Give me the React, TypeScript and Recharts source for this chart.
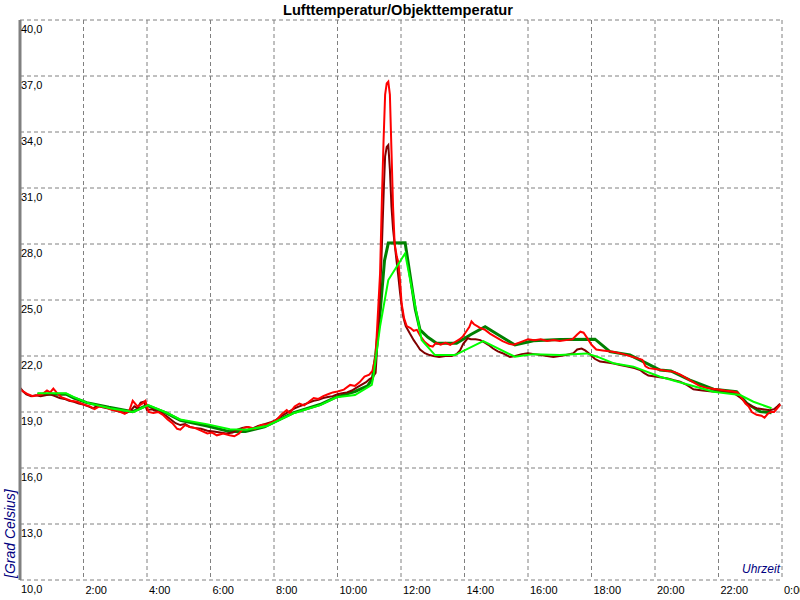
import React from 'react';
import { LineChart, Line, XAxis, YAxis, CartesianGrid } from 'recharts';

// hours of day
const xTicks = [0, 2, 4, 6, 8, 10, 12, 14, 16, 18, 20, 22, 24];
const xTickLabels = ['', '2:00', '4:00', '6:00', '8:00', '10:00', '12:00', '14:00', '16:00', '18:00', '20:00', '22:00', '0:00'];
const yTicks = [10, 13, 16, 19, 22, 25, 28, 31, 34, 37, 40];

// Lufttemperatur (hell rot)
const redHours = [0.0, 0.1, 0.25, 0.4, 0.55, 0.7, 0.85, 0.95, 1.05, 1.15, 1.3, 1.45, 1.6, 1.8, 2.0, 2.2, 2.35, 2.5, 2.7, 2.9, 3.1, 3.3, 3.45, 3.55, 3.7, 3.85, 3.95, 4.05, 4.2, 4.35, 4.5, 4.65, 4.8, 4.95, 5.05, 5.2, 5.35, 5.5, 5.7, 5.9, 6.05, 6.2, 6.4, 6.6, 6.75, 6.9, 7.05, 7.2, 7.4, 7.6, 7.8, 7.95, 8.1, 8.25, 8.4, 8.5, 8.65, 8.8, 8.95, 9.1, 9.25, 9.4, 9.55, 9.7, 9.85, 10.0, 10.2, 10.4, 10.55, 10.7, 10.85, 11.0, 11.1, 11.2, 11.28, 11.34, 11.4, 11.45, 11.5, 11.55, 11.6, 11.65, 11.7, 11.75, 11.8, 11.87, 11.92, 11.97, 12.02, 12.1, 12.18, 12.3, 12.4, 12.5, 12.6, 12.75, 12.9, 13.0, 13.1, 13.25, 13.4, 13.55, 13.7, 13.85, 13.95, 14.05, 14.15, 14.22, 14.3, 14.4, 14.5, 14.65, 14.8, 15.0, 15.2, 15.4, 15.55, 15.7, 15.85, 16.0, 16.2, 16.4, 16.6, 16.8, 17.0, 17.2, 17.4, 17.55, 17.65, 17.75, 17.85, 18.0, 18.15, 18.35, 18.55, 18.75, 19.0, 19.2, 19.4, 19.6, 19.7, 19.8, 20.0, 20.2, 20.4, 20.6, 20.8, 21.0, 21.2, 21.4, 21.6, 21.8, 22.0, 22.2, 22.45, 22.6, 22.75, 22.85, 22.95, 23.05, 23.2, 23.35, 23.45, 23.55, 23.65, 23.75, 23.85, 23.95];
const redTemps = [20.2, 20.1, 19.95, 19.85, 19.9, 19.95, 20.15, 20.05, 20.25, 20.05, 19.8, 19.7, 19.6, 19.55, 19.4, 19.3, 19.15, 19.3, 19.25, 19.1, 19.05, 18.9, 19.1, 19.6, 19.3, 19.45, 19.6, 19.0, 18.95, 19.0, 18.85, 18.6, 18.4, 18.1, 18.05, 18.3, 18.2, 18.15, 18.0, 17.85, 17.9, 17.75, 17.85, 17.75, 17.7, 17.85, 18.15, 18.2, 18.1, 18.3, 18.35, 18.45, 18.6, 18.9, 19.1, 18.95, 19.3, 19.45, 19.35, 19.55, 19.75, 19.7, 19.85, 19.95, 20.05, 20.1, 20.2, 20.45, 20.4, 20.6, 20.9, 21.0, 21.2, 22.0, 24.5, 26.4, 30.5, 33.5, 36.0, 36.6, 36.7, 36.0, 33.0, 30.0, 28.0, 27.3, 27.0, 26.0, 24.8, 24.0, 23.6, 23.5, 23.35, 23.4, 23.1, 22.75, 22.55, 22.5, 22.7, 22.6, 22.7, 22.6, 22.75, 22.9, 23.05, 23.3, 23.55, 23.85, 23.7, 23.6, 23.5, 23.4, 23.2, 23.0, 22.8, 22.65, 22.6, 22.7, 22.8, 22.9, 22.85, 22.9, 22.8, 22.85, 22.8, 22.85, 22.9, 23.15, 23.3, 23.25, 23.0, 22.6, 22.35, 22.3, 22.25, 22.2, 22.1, 22.0, 21.9, 21.8, 21.45, 21.35, 21.3, 21.25, 21.2, 21.15, 21.0, 20.8, 20.6, 20.4, 20.3, 20.25, 20.2, 20.15, 20.1, 20.05, 19.7, 19.45, 19.3, 19.0, 18.85, 18.8, 18.7, 18.9, 19.0, 19.0, 19.2, 19.4];

// Objekttemperatur (dunkelrot)
const darkRedHours = [0.0, 0.1, 0.2, 0.35, 0.5, 0.65, 0.8, 0.95, 1.1, 1.25, 1.4, 1.55, 1.7, 1.85, 2.0, 2.15, 2.3, 2.45, 2.6, 2.75, 2.9, 3.05, 3.2, 3.35, 3.5, 3.6, 3.7, 3.8, 3.9, 4.0, 4.15, 4.3, 4.45, 4.6, 4.75, 4.9, 5.05, 5.2, 5.35, 5.5, 5.7, 5.9, 6.1, 6.3, 6.5, 6.7, 6.85, 7.0, 7.15, 7.3, 7.5, 7.7, 7.9, 8.05, 8.2, 8.35, 8.5, 8.65, 8.8, 8.95, 9.1, 9.25, 9.4, 9.55, 9.7, 9.85, 10.0, 10.15, 10.3, 10.45, 10.6, 10.75, 10.9, 11.0, 11.1, 11.2, 11.25, 11.3, 11.34, 11.38, 11.42, 11.46, 11.5, 11.55, 11.6, 11.65, 11.7, 11.75, 11.8, 11.86, 11.92, 11.97, 12.02, 12.07, 12.15, 12.28, 12.4, 12.5, 12.6, 12.75, 12.9, 13.02, 13.2, 13.4, 13.6, 13.75, 13.86, 13.96, 14.1, 14.2, 14.35, 14.5, 14.6, 14.75, 14.9, 15.05, 15.2, 15.43, 15.6, 15.8, 16.0, 16.2, 16.4, 16.6, 16.8, 17.0, 17.2, 17.43, 17.55, 17.69, 17.8, 17.95, 18.1, 18.27, 18.5, 18.7, 18.9, 19.1, 19.35, 19.53, 19.65, 19.79, 20.0, 20.2, 20.4, 20.6, 20.79, 21.0, 21.21, 21.5, 21.8, 22.05, 22.3, 22.5, 22.7, 22.89, 23.05, 23.2, 23.4, 23.62, 23.75, 23.85, 23.94];
const darkRedTemps = [20.3, 20.1, 19.95, 19.85, 19.9, 19.85, 19.9, 19.95, 19.85, 19.75, 19.7, 19.6, 19.55, 19.45, 19.4, 19.3, 19.2, 19.35, 19.25, 19.2, 19.15, 19.05, 19.0, 18.95, 19.1, 19.3, 19.2, 19.5, 19.55, 19.1, 19.15, 19.05, 18.95, 18.8, 18.6, 18.4, 18.3, 18.35, 18.2, 18.15, 18.1, 18.0, 17.95, 17.9, 17.85, 17.9, 18.05, 18.15, 18.2, 18.1, 18.25, 18.35, 18.45, 18.55, 18.75, 18.9, 19.05, 19.2, 19.3, 19.4, 19.5, 19.6, 19.65, 19.75, 19.8, 19.85, 19.95, 20.0, 20.05, 20.15, 20.3, 20.45, 20.6, 20.75, 20.85, 21.1, 22.5, 24.0, 25.4, 27.0, 29.0, 31.0, 32.7, 33.2, 33.3, 32.0, 30.0, 28.8, 28.0, 27.1, 26.2, 25.4, 24.7, 24.1, 23.6, 23.2, 22.85, 22.6, 22.35, 22.15, 22.05, 22.0, 21.95, 22.0, 22.0, 22.1, 22.3, 22.65, 22.95, 22.9, 22.9, 22.85, 22.75, 22.6, 22.4, 22.25, 22.15, 21.95, 22.0, 22.1, 22.15, 22.1, 22.05, 22.0, 21.95, 22.0, 22.05, 22.15, 22.35, 22.4, 22.3, 22.1, 21.85, 21.7, 21.65, 21.6, 21.52, 21.45, 21.35, 21.25, 21.1, 20.95, 20.9, 20.85, 20.8, 20.7, 20.62, 20.45, 20.22, 20.15, 20.1, 20.09, 20.05, 20.0, 19.75, 19.47, 19.3, 19.2, 19.15, 19.1, 19.15, 19.3, 19.45];

// gemittelt (dunkelgrün)
const darkGreenHours = [0.55, 1.45, 1.7, 2.1, 2.8, 3.55, 4.0, 4.6, 5.05, 5.9, 6.6, 7.1, 7.7, 8.6, 9.45, 9.95, 10.55, 10.95, 11.1, 11.2, 11.34, 11.48, 11.6, 12.13, 12.28, 12.45, 12.6, 12.85, 13.12, 13.75, 14.2, 14.65, 15.1, 15.59, 16.17, 17.0, 18.11, 18.58, 19.21, 19.74, 20.16, 20.5, 21.1, 21.84, 22.57, 22.89, 23.31, 23.67];
const darkGreenTemps = [19.95, 19.95, 19.75, 19.5, 19.25, 19.02, 19.35, 18.95, 18.55, 18.25, 17.95, 17.95, 18.2, 18.95, 19.4, 19.8, 20.1, 20.4, 20.8, 22.0, 24.3, 27.1, 28.05, 28.07, 26.4, 24.5, 23.4, 23.0, 22.68, 22.68, 23.15, 23.57, 23.1, 22.59, 22.82, 22.88, 22.9, 22.23, 22.05, 21.61, 21.25, 21.2, 20.71, 20.22, 20.09, 19.47, 19.02, 18.96];

// gemittelt (hellgrün)
const lightGreenHours = [0.55, 1.45, 1.7, 2.1, 2.83, 3.57, 4.04, 4.62, 5.04, 5.88, 6.61, 7.14, 7.77, 8.61, 9.45, 9.97, 10.55, 11.08, 11.13, 11.34, 11.6, 12.13, 12.49, 12.65, 13.07, 13.7, 14.59, 15.59, 16.17, 17.0, 17.85, 18.2, 18.69, 19.32, 20.16, 20.89, 21.84, 22.68, 23.1, 23.67];
const lightGreenTemps = [20.0, 20.0, 19.8, 19.5, 19.2, 19.0, 19.37, 18.96, 18.6, 18.35, 18.08, 18.05, 18.25, 18.93, 19.37, 19.79, 19.91, 20.45, 20.9, 23.57, 26.07, 27.5, 24.29, 22.86, 22.05, 22.05, 22.8, 21.96, 22.1, 22.05, 22.14, 21.95, 21.61, 21.43, 20.89, 20.54, 20.09, 19.91, 19.55, 19.2];

const zip = (hs: number[], ts: number[]) => hs.map((h, i) => ({ h, t: ts[i] }));
const redData = zip(redHours, redTemps);
const darkRedData = zip(darkRedHours, darkRedTemps);
const darkGreenData = zip(darkGreenHours, darkGreenTemps);
const lightGreenData = zip(lightGreenHours, lightGreenTemps);

const FONT = '"Liberation Sans", Arial, sans-serif';

const renderYTick = (props: any) => {
  const { x, y, payload } = props;
  return (
    <text x={x + 1} y={y + 13} fontFamily={FONT} fontSize={11} fill="#000" textAnchor="start">
      {Number(payload.value).toFixed(1).replace('.', ',')}
    </text>
  );
};

const renderXTick = (props: any) => {
  const { x, y, payload } = props;
  const idx = xTicks.indexOf(payload.value);
  const label = idx >= 0 ? xTickLabels[idx] : '';
  return (
    <text x={x + 2} y={y + 14} fontFamily={FONT} fontSize={11} fill="#000" textAnchor="start">
      {label}
    </text>
  );
};

export default function App() {
  return (
    <div style={{ position: 'absolute', left: 0, top: 0, width: 800, height: 600, background: '#fff', overflow: 'hidden' }}>
      <LineChart width={800} height={600} margin={{ top: 20, right: 18, bottom: 19, left: 19 }}>
        <CartesianGrid stroke="#808080" strokeDasharray="4 3" strokeWidth={1} />
        <XAxis
          dataKey="h"
          type="number"
          domain={[0, 24]}
          ticks={xTicks}
          allowDataOverflow
          height={1}
          axisLine={false}
          tickLine={false}
          tickSize={0}
          tickMargin={0}
          tick={renderXTick}
          interval={0}
        />
        <YAxis
          type="number"
          domain={[10, 40]}
          ticks={yTicks}
          allowDataOverflow
          width={1}
          axisLine={{ stroke: '#808080', strokeWidth: 3 }}
          tickLine={false}
          tickSize={0}
          tickMargin={0}
          tick={renderYTick}
          interval={0}
        />
        <Line data={darkGreenData} dataKey="t" type="linear" stroke="#008000" strokeWidth={3} dot={false} isAnimationActive={false} />
        <Line data={darkRedData} dataKey="t" type="linear" stroke="#800000" strokeWidth={2} dot={false} isAnimationActive={false} />
        <Line data={redData} dataKey="t" type="linear" stroke="#FF0000" strokeWidth={2} dot={false} isAnimationActive={false} />
        <Line data={lightGreenData} dataKey="t" type="linear" stroke="#00FF00" strokeWidth={2} dot={false} isAnimationActive={false} />
      </LineChart>
      <svg width={800} height={600} style={{ position: 'absolute', left: 0, top: 0, pointerEvents: 'none' }}>
        <text x={398} y={15} textAnchor="middle" fontFamily={FONT} fontWeight="bold" fontSize={15} textLength={230} lengthAdjust="spacingAndGlyphs" fill="#000">
          Lufttemperatur/Objekttemperatur
        </text>
        <text transform="translate(15,578) rotate(-90)" textAnchor="start" fontFamily={FONT} fontStyle="italic" fontSize={14} fill="#000080">
          [Grad Celsius]
        </text>
        <text x={780} y={573} textAnchor="end" fontFamily={FONT} fontStyle="italic" fontSize={12} fill="#000080">
          Uhrzeit
        </text>
      </svg>
    </div>
  );
}
